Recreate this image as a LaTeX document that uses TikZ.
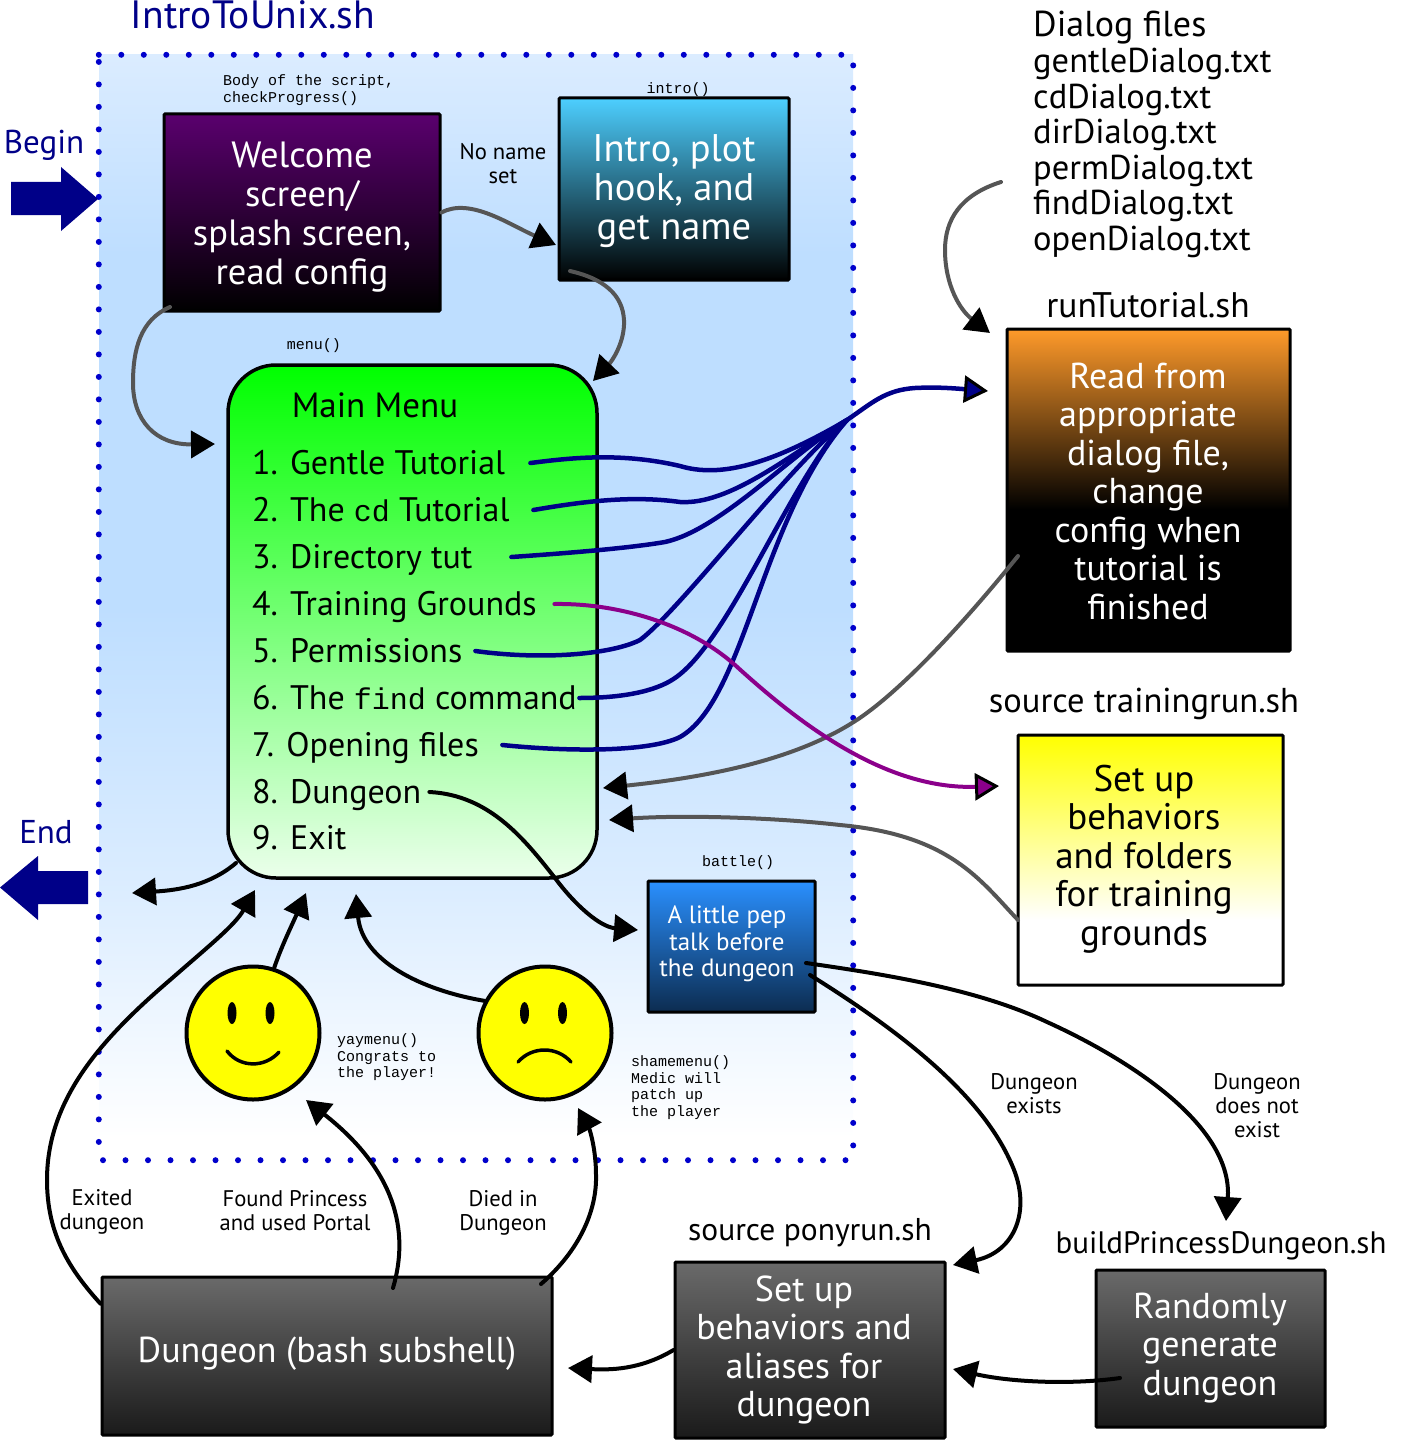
\documentclass[tikz,border=0pt]{standalone}
\usepackage{fontspec}
\usetikzlibrary{arrows.meta}
\newfontfamily\handfont{PT Sans}
\newfontfamily\codefont{Liberation Mono}
\definecolor{deepnavy}{HTML}{000088}
\definecolor{dotblue}{HTML}{0000CC}
\definecolor{linkgray}{HTML}{555555}
\definecolor{linkpurple}{HTML}{8B008B}
\definecolor{plumtop}{HTML}{5A006E}
\definecolor{skytop}{HTML}{4DCFFF}
\definecolor{peptop}{HTML}{2A90FF}
\definecolor{pepbottom}{HTML}{0C2C50}
\definecolor{orangetop}{HTML}{FF9A2A}
\definecolor{slatetop}{HTML}{6A6A6A}
\definecolor{slatebottom}{HTML}{1A1A1A}
\definecolor{paletop}{HTML}{DBECFF}
\definecolor{palemid}{HTML}{BEDEFF}
\definecolor{palelow}{HTML}{DCEDFF}
\definecolor{faceyellow}{RGB}{255,255,0}
\definecolor{menugreen}{RGB}{0,255,0}
\definecolor{menupale}{RGB}{235,255,235}
\pgfdeclareverticalshading{scriptshade}{100bp}{color(0bp)=(white); color(26bp)=(white); color(37bp)=(palelow); color(50bp)=(palemid); color(66bp)=(palemid); color(75bp)=(paletop); color(100bp)=(paletop)}
\pgfdeclareverticalshading{runshade}{100bp}{color(0bp)=(black); color(47bp)=(black); color(75bp)=(orangetop); color(100bp)=(orangetop)}
\pgfdeclareverticalshading{trainshade}{100bp}{color(0bp)=(white); color(38bp)=(white); color(75bp)=(faceyellow); color(100bp)=(faceyellow)}
\begin{document}
\begin{tikzpicture}[
    x=1pt,y=-1pt,
    >={Triangle[length=24pt,width=27pt,color=black]},
    box/.style={
      draw=black,
      line width=3pt,
      rounded corners=1pt,
      inner sep=0pt
    },
    hand/.style={
      font=\handfont\fontsize{33}{38.5}\selectfont,
      align=center,
      inner sep=0pt
    },
    boxtext/.style={
      font=\handfont\fontsize{36}{38.5}\selectfont,
      align=center,
      inner sep=0pt,
      text=white
    },
    mid/.style={
      font=\handfont\fontsize{22.6}{24}\selectfont,
      align=center,
      inner sep=0pt
    },
    code/.style={
      font=\codefont\fontsize{15}{16.5}\selectfont,
      align=left,
      inner sep=0pt
    },
    face/.style={
      draw=black,
      circle,
      line width=4pt,
      fill=faceyellow,
      minimum size=133pt
    },
    link/.style={line width=4pt,line cap=round},
    graylink/.style={link,draw=linkgray,->},
    blacklink/.style={link,draw=black,->},
    bluelink/.style={link,line width=4.5pt,draw=deepnavy}
  ]
  \useasboundingbox (0,0) rectangle (1401,1450);
  \node[inner sep=0pt,minimum width=754pt,minimum height=1105pt,shading=scriptshade] (script) at (476,607.5) {} ;
  \draw[dotblue,line width=6pt,line cap=round,dash pattern=on 0pt off 22.5pt]
    (script.north west) -- (script.north east) -- (script.south east) -- (script.south west) -- cycle;

  \node[hand,text=deepnavy,font=\handfont\fontsize{39.5}{40}\selectfont] (title) at (253,15) {IntroToUnix.sh} ;
  \node[hand,text=deepnavy] (begintext) at (44,145) {Begin} ;
  \node[hand,text=deepnavy] (endtext) at (46,832) {End} ;
  \fill[deepnavy] (11,182) -- (61,182) -- (61,167) -- (98,199) -- (61,231) -- (61,215) -- (11,215) -- cycle;
  \fill[deepnavy] (88,871) -- (38,871) -- (38,856) -- (0,887.5) -- (38,920) -- (38,904) -- (88,904) -- cycle;

  \node[box,minimum width=276pt,minimum height=197pt,top color=plumtop,bottom color=black] (welcome) at (302,212.5) {} ;
  \node[boxtext,font=\handfont\fontsize{36.5}{38.8}\selectfont] (welcometext) at (302,217) {Welcome\\screen/\\splash screen,\\read config} ;
  \node[box,minimum width=230pt,minimum height=182pt,top color=skytop,bottom color=black] (intro) at (674,189) {} ;
  \node[boxtext,font=\handfont\fontsize{38.5}{38.8}\selectfont] (introtext) at (674,191) {Intro, plot\\hook, and\\get name} ;
  \node[box,line width=3.5pt,rounded corners=48pt,minimum width=369pt,minimum height=513pt,top color=menugreen,bottom color=menupale] (menu) at (412.5,621.5) {} ;
  \node[box,minimum width=283pt,minimum height=322pt,shading=runshade] (runtut) at (1148.5,490) {} ;
  \node[boxtext] (runtext) at (1148,491) {Read from\\appropriate\\dialog file,\\change\\config when\\tutorial is\\finished} ;
  \node[box,minimum width=265pt,minimum height=250pt,shading=trainshade] (training) at (1150.5,860) {} ;
  \node[boxtext,text=black,font=\handfont\fontsize{37}{38.5}\selectfont] (traintext) at (1144,859) {Set up\\behaviors\\and folders\\for training\\grounds} ;
  \node[box,minimum width=167pt,minimum height=131pt,top color=peptop,bottom color=pepbottom] (pep) at (731.5,946.5) {} ;
  \node[boxtext,font=\handfont\fontsize{25}{26.5}\selectfont] (peptext) at (727,944) {A little pep\\talk before\\the dungeon} ;
  \node[box,minimum width=450pt,minimum height=158pt,top color=slatetop,bottom color=slatebottom] (dungeon) at (327,1356) {} ;
  \node[boxtext] (dungeontext) at (327,1354) {Dungeon (bash subshell)} ;
  \node[box,minimum width=270pt,minimum height=176pt,top color=slatetop,bottom color=slatebottom] (pony) at (810,1350) {} ;
  \node[boxtext] (ponytext) at (804,1350) {Set up\\behaviors and\\aliases for\\dungeon} ;
  \node[box,minimum width=229pt,minimum height=157pt,top color=slatetop,bottom color=slatebottom] (random) at (1210.5,1348.5) {} ;
  \node[boxtext] (randomtext) at (1210,1348) {Randomly\\generate\\dungeon} ;

  \node[hand,font=\handfont\fontsize{35}{38.5}\selectfont] (menutitle) at (375,405) {Main Menu} ;
  \foreach \id/\ypos/\wid/\txt in {
      1/463/278/{1. Gentle Tutorial},
      2/510/281/{2. The {\codefont\fontsize{30}{38}\selectfont cd} Tutorial},
      3/557/259/{3. Directory tut},
      4/604/302/{4. Training Grounds},
      5/651/223/{5. Permissions},
      6/698/327/{6. The {\codefont\fontsize{30}{38}\selectfont find} command},
      7/745/250/{7. Opening files},
      8/792/177/{8. Dungeon},
      9/838/100/{9. Exit}}
    \node[hand,font=\handfont\fontsize{34}{38.5}\selectfont,anchor=west,text height=28pt,text depth=6pt] (item\id) at (252,\ypos) {\makebox[\wid pt][l]{\txt}} ;

  \node[hand,font=\handfont\fontsize{34.5}{35.5}\selectfont,align=left,anchor=north west] (dialog) at (1033,11) {\fontsize{36}{35.5}\selectfont Dialog files\\[0.6pt]gentleDialog.txt\\cdDialog.txt\\dirDialog.txt\\permDialog.txt\\findDialog.txt\\openDialog.txt} ;
  \node[hand,font=\handfont\fontsize{35.5}{38}\selectfont] (runname) at (1148,305) {runTutorial.sh} ;
  \node[hand,font=\handfont\fontsize{34.5}{38}\selectfont] (trainname) at (1144,704) {source trainingrun.sh} ;
  \node[hand,font=\handfont\fontsize{31.5}{38}\selectfont] (ponyname) at (810,1233) {source ponyrun.sh} ;
  \node[hand,font=\handfont\fontsize{31}{38}\selectfont] (buildname) at (1221,1246) {buildPrincessDungeon.sh} ;

  \node[code,anchor=north west] (bodynote) at (223,74.5) {Body of the script,\\checkProgress()} ;
  \node[code] (intronote) at (678,90) {intro()} ;
  \node[code] (menunote) at (314,346) {menu()} ;
  \node[code] (battlenote) at (738,863) {battle()} ;
  \node[code,anchor=north west] (yaynote) at (337,1033.5) {yaymenu()\\Congrats to\\the player!} ;
  \node[code,anchor=north west] (shamenote) at (631,1055.5) {shamemenu()\\Medic will\\patch up\\the player} ;

  \node[mid] (noname) at (503,164) {No name\\set} ;
  \node[mid] (exists) at (1034,1094) {Dungeon\\exists} ;
  \node[mid] (notexists) at (1257,1106) {Dungeon\\does not\\exist} ;
  \node[mid] (exited) at (102,1212) {Exited\\dungeon} ;
  \node[mid] (found) at (295,1211) {Found Princess\\and used Portal} ;
  \node[mid] (died) at (503,1213) {Died in\\Dungeon} ;

  \node[face] (happy) at (253,1033) {} ;
  \node[face] (sad) at (545,1033) {} ;
  \fill (232,1013) ellipse [x radius=4.5pt,y radius=11pt];
  \fill (270,1013) ellipse [x radius=4.5pt,y radius=11pt];
  \fill (524.5,1013) ellipse [x radius=4.5pt,y radius=11pt];
  \fill (562.5,1013) ellipse [x radius=4.5pt,y radius=11pt];
  \draw[line width=3.5pt,line cap=round] (227,1051) .. controls (240,1068) and (265,1068) .. (279,1052);
  \draw[line width=3.5pt,line cap=round] (518,1062) .. controls (532,1046) and (557,1046) .. (571,1062);

  \node[coordinate] (welcomeout) at (170,307) {};
  \node[coordinate] (introout) at (570,271) {};
  \node[coordinate] (dialogout) at (1001,182) {};
  \node[coordinate] (runout) at (1018,556) {};
  \node[coordinate] (trainout) at (1018,920) {};
  \node[coordinate] (menuout) at (236,863) {};
  \node[coordinate] (pepoutA) at (810,975) {};
  \node[coordinate] (pepoutB) at (806,963) {};
  \node[coordinate] (dungeonoutA) at (393,1288) {};
  \node[coordinate] (dungeonoutB) at (541,1284) {};
  \node[coordinate] (randomout) at (1120,1378) {};
  \node[coordinate] (introin) at (556,245) {};
  \node[coordinate] (menuinA) at (215,444) {};
  \node[coordinate] (menuinB) at (593,381) {};
  \node[coordinate] (menuinC) at (603,788) {};
  \node[coordinate] (menuinD) at (609,820) {};
  \node[coordinate] (menuinE) at (255,890) {};
  \node[coordinate] (menuinF) at (306,893) {};
  \node[coordinate] (menuinG) at (356,894) {};
  \node[coordinate] (exitend) at (132,893) {};
  \node[coordinate] (runin) at (990,333) {};
  \node[coordinate] (hub) at (847,420) {};
  \node[coordinate] (blueend) at (988,391) {};
  \node[coordinate] (purpleend) at (999,786) {};
  \node[coordinate] (pepin) at (638,930) {};
  \node[coordinate] (happyin) at (306,1100) {};
  \node[coordinate] (sadin) at (578,1108) {};
  \node[coordinate] (ponyin) at (953,1265) {};
  \node[coordinate] (ponyinB) at (953,1369) {};
  \node[coordinate] (buildin) at (1226,1221) {};
  \node[coordinate] (dungeonin) at (568,1368) {};

  \draw[graylink] (welcome.east) .. controls (470,197) and (510,225) .. (introin);
  \draw[graylink] (welcomeout) .. controls (140,320) and (133,350) .. (133,383) .. controls (133,420) and (155,445) .. (menuinA);
  \draw[graylink] (introout) .. controls (610,280) and (625,300) .. (624,325) .. controls (623,345) and (612,361) .. (menuinB);
  \draw[graylink] (dialogout) .. controls (960,195) and (945,220) .. (945,250) .. controls (945,285) and (960,310) .. (runin);
  \draw[graylink] (runout) .. controls (950,640) and (890,700) .. (852,723) .. controls (790,762) and (700,778) .. (menuinC);
  \draw[graylink] (trainout) .. controls (980,880) and (950,835) .. (840,825) .. controls (770,817) and (680,815) .. (menuinD);

  \draw[bluelink] (item1.east) .. controls (570,458) and (620,452) .. (680,466) .. controls (720,478) and (770,465) .. (hub);
  \draw[bluelink] (item2.east) .. controls (580,502) and (630,495) .. (680,502) .. controls (730,505) and (790,455) .. (hub);
  \draw[bluelink] (item3.east) .. controls (570,553) and (630,548) .. (665,542) .. controls (720,530) and (790,455) .. (hub);
  \draw[bluelink] (item5.east) .. controls (540,660) and (610,655) .. (640,640) .. controls (680,610) and (790,465) .. (hub);
  \draw[bluelink] (item6.east) .. controls (620,698) and (655,692) .. (675,678) .. controls (730,640) and (790,480) .. (hub);
  \draw[bluelink] (item7.east) .. controls (570,752) and (650,752) .. (680,737) .. controls (745,700) and (760,520) .. (hub);
  \draw[bluelink,-{Triangle[length=24pt,width=27pt,color=black,fill=deepnavy,line width=3pt]}] (hub) .. controls (872,403) and (885,390) .. (915,388) .. controls (935,387) and (950,388) .. (blueend);
  \draw[link,draw=linkpurple,-{Triangle[length=24pt,width=27pt,color=black,fill=linkpurple,line width=3pt]}] (item4.east) .. controls (620,603) and (690,625) .. (735,665) .. controls (790,715) and (880,790) .. (purpleend);

  \draw[blacklink] (item8.east) .. controls (490,795) and (525,840) .. (555,878) .. controls (575,905) and (600,927) .. (pepin);
  \draw[blacklink] (menuout) .. controls (210,885) and (180,890) .. (exitend);
  \draw[blacklink] (dungeon.167) .. controls (70,1270) and (47,1235) .. (47,1180) .. controls (47,1100) and (100,1040) .. (170,980) .. controls (210,945) and (235,925) .. (menuinE);
  \draw[blacklink] (happy.72) .. controls (282,945) and (292,925) .. (menuinF);
  \draw[blacklink] (sad.152) .. controls (420,990) and (362,960) .. (menuinG);
  \draw[blacklink] (dungeonoutA) .. controls (410,1230) and (395,1170) .. (happyin);
  \draw[blacklink] (dungeonoutB) .. controls (580,1250) and (597,1210) .. (596,1175) .. controls (596,1150) and (590,1130) .. (sadin);
  \draw[blacklink] (pepoutA) .. controls (890,1025) and (980,1090) .. (1012,1165) .. controls (1032,1210) and (1015,1252) .. (ponyin);
  \draw[blacklink] (pepoutB) .. controls (890,975) and (980,990) .. (1047,1022) .. controls (1120,1055) and (1228,1120) .. (1228,1193) -- (buildin);
  \draw[blacklink] (pony.west) .. controls (640,1370) and (610,1370) .. (dungeonin);
  \draw[blacklink] (randomout) .. controls (1070,1385) and (1010,1382) .. (ponyinB);
\end{tikzpicture}
\end{document}
